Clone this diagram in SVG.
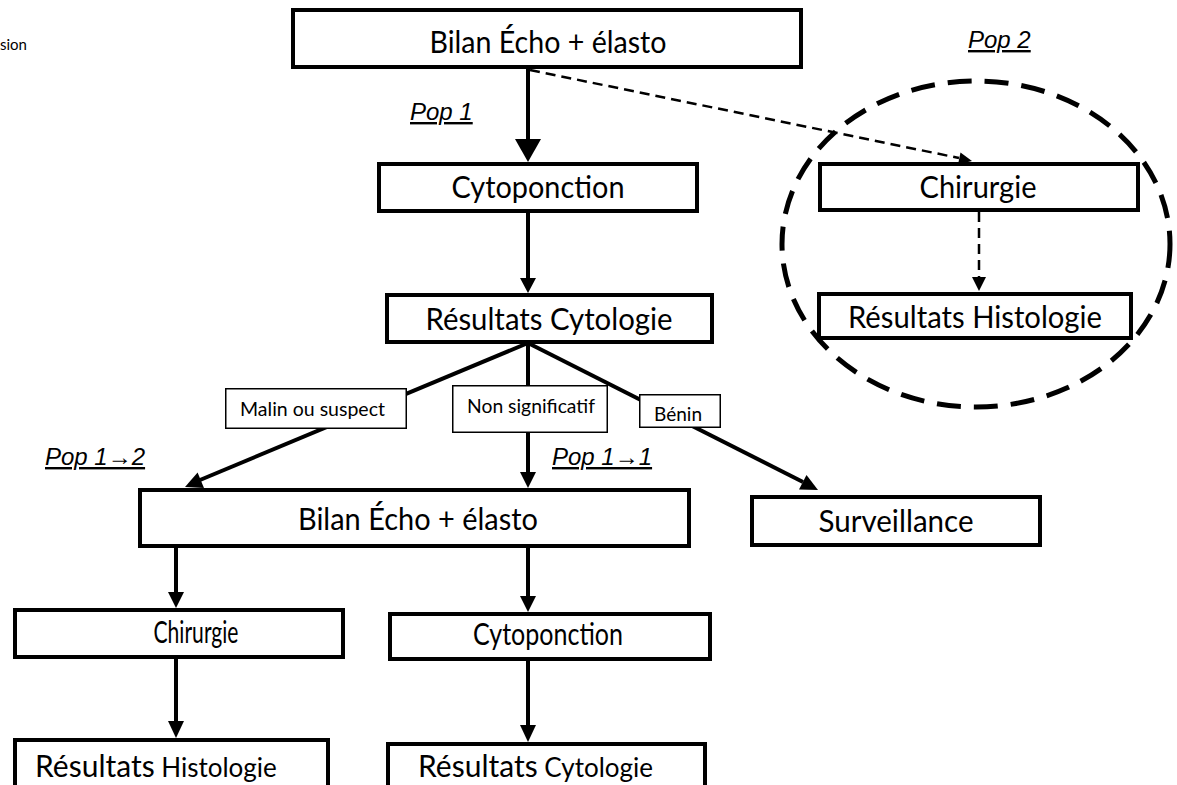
<svg xmlns="http://www.w3.org/2000/svg" width="1177" height="785" viewBox="0 0 1177 785">
<style>
.box{fill:#fff;stroke:#000;stroke-width:4}
.lbl{fill:#fff;stroke:#000;stroke-width:1.5}
.tc{font-family:Lato,"Open Sans",sans-serif;font-size:31px;fill:#000;text-anchor:middle}
.ts{font-family:Lato,"Open Sans",sans-serif;font-size:19px;fill:#000}
.pop{font-family:"Liberation Sans",Arial,sans-serif;font-size:24px;font-style:italic;text-decoration:underline;fill:#000}
.ln{stroke:#000;stroke-width:4;fill:none}
.ds{stroke:#000;stroke-width:2.5;fill:none;stroke-dasharray:10 6}
.hd{fill:#000}
</style>
<text x="0" y="50" font-family="Lato,sans-serif" font-size="15" fill="#000">sion</text>
<g id="pop2-group">
<ellipse cx="976" cy="244" rx="194" ry="163" fill="none" stroke="#000" stroke-width="5" stroke-dasharray="24 13"/>
</g>
<g id="connectors">
<line class="ln" x1="528" y1="68" x2="528" y2="141" stroke-width="7"/>
<polygon class="hd" points="515,139 541,139 528,162"/>
<line class="ds" x1="530" y1="70" x2="959" y2="158"/>
<polygon class="hd" points="972,161 958,164.5 960.5,152.5"/>
<line class="ln" x1="528" y1="213" x2="528" y2="279"/>
<polygon class="hd" points="520,278 536,278 528,293"/>
<line class="ds" x1="979" y1="212" x2="979" y2="278" stroke-dasharray="8 5"/>
<polygon class="hd" points="972,277 986,277 979,291"/>
<line class="ln" x1="528" y1="343" x2="200" y2="480"/>
<polygon class="hd" points="185,487 204,488 197.6,472.5"/>
<line class="ln" x1="528" y1="343" x2="528" y2="473"/>
<polygon class="hd" points="520,472 536,472 528,488"/>
<line class="ln" x1="528" y1="343" x2="803" y2="482"/>
<polygon class="hd" points="818,490 799,489.5 806.5,475"/>
<line class="ln" x1="176" y1="548" x2="176" y2="593"/>
<polygon class="hd" points="168,592 184,592 176,608"/>
<line class="ln" x1="528" y1="548" x2="528" y2="597"/>
<polygon class="hd" points="520,596 536,596 528,612"/>
<line class="ln" x1="176" y1="659" x2="176" y2="722"/>
<polygon class="hd" points="168,721 184,721 176,738"/>
<line class="ln" x1="528" y1="661" x2="528" y2="726"/>
<polygon class="hd" points="520,725 536,725 528,742"/>
</g>
<g id="n-bilan-top"><rect class="box" x="293" y="10" width="508" height="57"/><text class="tc" x="548" y="53" textLength="237" lengthAdjust="spacingAndGlyphs">Bilan Écho + élasto</text></g>
<g id="n-pop1"><text class="pop" x="410" y="120">Pop 1</text></g>
<g id="n-pop2"><text class="pop" x="968" y="48">Pop 2</text></g>
<g id="n-cyto1"><rect class="box" x="379" y="164" width="318" height="47"/><text class="tc" x="538" y="198" textLength="173" lengthAdjust="spacingAndGlyphs">Cytoponction</text></g>
<g id="n-rescyto1"><rect class="box" x="387" y="295" width="325" height="47"/><text class="tc" x="549" y="330" textLength="247" lengthAdjust="spacingAndGlyphs">Résultats Cytologie</text></g>
<g id="n-chir2"><rect class="box" x="820" y="164" width="318" height="46" stroke-width="3.5"/><text class="tc" x="978" y="198" textLength="117" lengthAdjust="spacingAndGlyphs">Chirurgie</text></g>
<g id="n-reshisto2"><rect class="box" x="819" y="294" width="312" height="44" stroke-width="3.5"/><text class="tc" x="975" y="328" textLength="254" lengthAdjust="spacingAndGlyphs">Résultats Histologie</text></g>
<g id="n-malin"><rect class="lbl" x="225.75" y="388.75" width="180.5" height="39.5"/><text class="ts" x="240" y="416" textLength="145" lengthAdjust="spacingAndGlyphs">Malin ou suspect</text></g>
<g id="n-nonsig"><rect class="lbl" x="452.75" y="385.75" width="154.5" height="46.5"/><text class="ts" x="467" y="413" textLength="128" lengthAdjust="spacingAndGlyphs">Non significatif</text></g>
<g id="n-benin"><rect class="lbl" x="639.75" y="394.75" width="80.5" height="32.5"/><text class="ts" x="654" y="421" textLength="48" lengthAdjust="spacingAndGlyphs">Bénin</text></g>
<g id="n-pop12"><text class="pop" x="45" y="465">Pop 1→2</text></g>
<g id="n-pop11"><text class="pop" x="552" y="465">Pop 1→1</text></g>
<g id="n-bilan2"><rect class="box" x="140" y="490" width="549" height="56"/><text class="tc" x="418" y="530" textLength="240" lengthAdjust="spacingAndGlyphs">Bilan Écho + élasto</text></g>
<g id="n-surv"><rect class="box" x="752" y="497" width="288" height="48"/><text class="tc" x="896" y="532" textLength="155" lengthAdjust="spacingAndGlyphs">Surveillance</text></g>
<g id="n-chir3"><rect class="box" x="15" y="610" width="328" height="47"/><text class="tc" x="196" y="643" textLength="85" lengthAdjust="spacingAndGlyphs">Chirurgie</text></g>
<g id="n-cyto3"><rect class="box" x="390" y="614" width="320" height="45"/><text class="tc" x="548" y="645" textLength="150" lengthAdjust="spacingAndGlyphs">Cytoponction</text></g>
<g id="n-reshisto3"><rect class="box" x="15" y="740" width="313" height="60"/><text x="35" y="777" font-family="Lato,sans-serif" font-size="30" fill="#000">Résultats<tspan font-size="26"> Histologie</tspan></text></g>
<g id="n-rescyto3"><rect class="box" x="388" y="744" width="317" height="60"/><text x="418" y="777" font-family="Lato,sans-serif" font-size="30" fill="#000">Résultats<tspan font-size="26"> Cytologie</tspan></text></g>
</svg>
